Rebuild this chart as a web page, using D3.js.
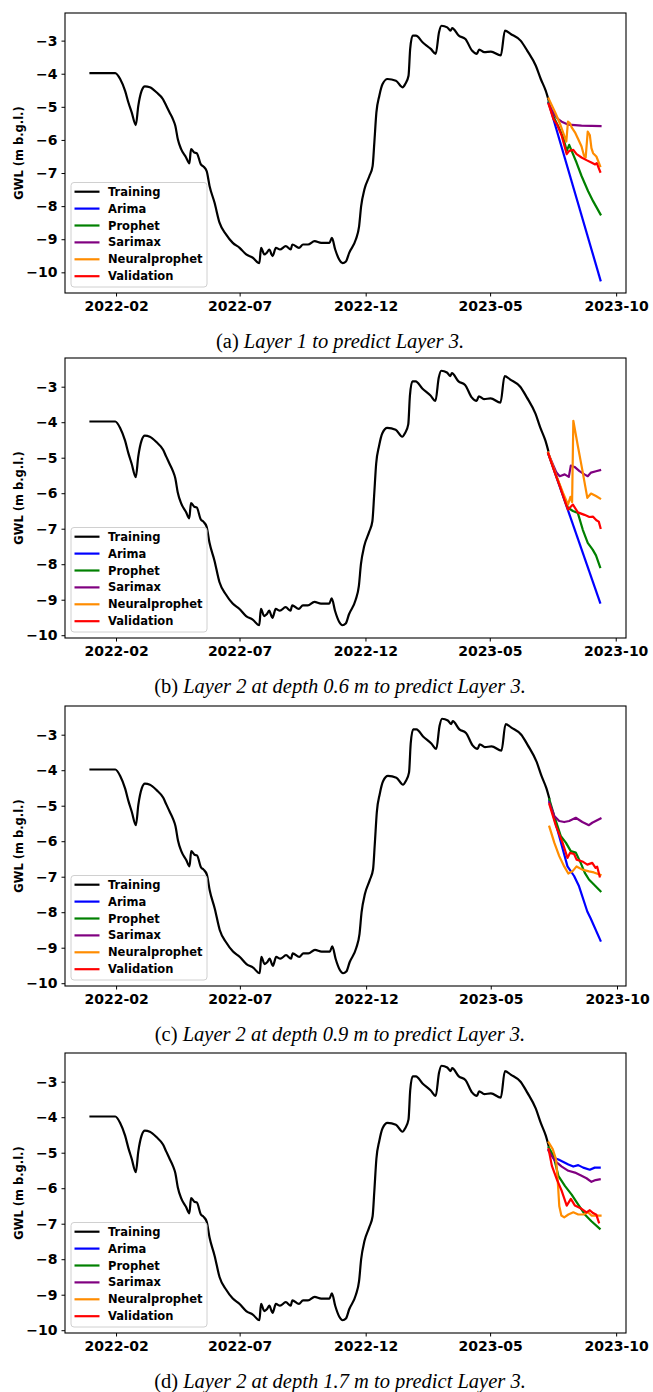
<!DOCTYPE html>
<html><head><meta charset="utf-8">
<script src="https://cdn.jsdelivr.net/npm/d3@7"></script>
<style>body{margin:0;background:#fff}</style>
</head><body><svg id="c" width="653" height="1392"></svg>
<script>
// ---------- DATA ----------
const trainStart = "2022-01-01";  // day 0 of training series
const trainDay = [0,30,36,42,46,50,55,58,62,66,72,80,88,92,96,100,103,106,110,116,120,122,126,129,134,137,141,144.5,150.6,156.6,164.7,172.7,181,189,197,205,207,211,214,217,221,225,230,237,243,245,253,258,264,272,280,290,293,297,302,306,310,314,322,326,328.5,332.5,338.5,342.4,344.5,347,350.5,354.5,360.5,370.7,378.7,382,386,388,391,395,403,413,419,423,426,433,437,439,447,455,463,469,471.7,478,486,498,503,510,522,530,540.5,546.5,552.6,556];
const trainGWL = [-3.98,-3.98,-4.16,-4.52,-4.87,-5.17,-5.55,-4.97,-4.52,-4.38,-4.41,-4.56,-4.77,-4.97,-5.17,-5.37,-5.58,-5.98,-6.28,-6.53,-6.71,-6.28,-6.38,-6.40,-6.74,-6.80,-6.94,-7.39,-7.90,-8.50,-8.86,-9.11,-9.26,-9.46,-9.56,-9.72,-9.26,-9.46,-9.41,-9.31,-9.51,-9.26,-9.31,-9.21,-9.31,-9.16,-9.26,-9.16,-9.16,-9.06,-9.11,-9.11,-8.96,-9.31,-9.62,-9.72,-9.67,-9.41,-9.01,-8.61,-8.0,-7.49,-7.09,-6.79,-6.08,-5.17,-4.67,-4.31,-4.16,-4.21,-4.41,-4.31,-4.06,-3.25,-2.85,-2.85,-3.05,-3.25,-3.40,-2.75,-2.55,-2.60,-2.70,-2.62,-2.85,-2.95,-3.30,-3.40,-3.27,-3.35,-3.33,-3.45,-2.70,-2.80,-3.00,-3.30,-3.76,-4.16,-4.52,-4.80];

const fcStart = "2023-07-11";     // day 0 of forecast series  [day, GWL]
// (a) Layer 1
const aArima   = [[0,-4.87],[63,-10.24]];
const aProphet = [[0,-4.87],[6,-5.3],[12,-5.6],[18,-5.95],[22,-6.33],[25,-6.15],[28,-6.33],[34,-6.69],[40,-7.09],[48,-7.55],[54,-7.85],[63,-8.25]];
const aSarimax = [[0,-4.90],[4,-5.10],[8,-5.27],[12,-5.38],[16,-5.45],[24,-5.54],[40,-5.57],[63,-5.58]];
const aNeural  = [[0,-4.75],[8,-5.17],[14,-5.52],[18,-5.80],[21.5,-6.05],[23.5,-5.45],[26,-5.50],[28,-5.62],[32,-5.77],[36,-5.98],[40,-6.20],[43,-6.48],[45,-6.53],[47.5,-5.75],[50,-5.85],[52,-6.25],[54,-6.40],[58,-6.50],[62.6,-6.79]];
const aValid   = [[0,-4.92],[6,-5.37],[10,-5.52],[16,-5.88],[22,-6.43],[25,-6.33],[30,-6.30],[34,-6.43],[40,-6.53],[46,-6.61],[52.5,-6.69],[56.5,-6.74],[58.5,-6.70],[62.6,-6.96]];
// (b) Layer 2, 0.6 m
const bArima   = [[0,-4.88],[63,-9.08]];
const bProphet = [[0,-4.88],[8,-5.40],[14,-5.78],[21,-6.25],[24,-6.41],[30,-6.50],[36,-6.56],[42,-7.03],[48,-7.40],[54,-7.59],[58,-7.75],[63,-8.08]];
const bSarimax = [[0,-4.88],[10,-5.42],[14,-5.52],[20,-5.47],[25,-5.54],[27.5,-5.22],[32,-5.26],[38,-5.38],[44,-5.47],[48,-5.52],[52,-5.42],[58,-5.38],[63,-5.35]];
const bNeural  = [[0,-4.86],[10,-5.52],[18,-5.99],[24,-6.32],[27,-6.10],[29,-6.25],[30.5,-3.96],[36,-4.67],[42,-5.42],[47.5,-6.13],[52,-6.01],[58,-6.08],[63,-6.15]];
const bValid   = [[0,-4.88],[8,-5.42],[14,-5.80],[21,-6.27],[24,-6.46],[30,-6.32],[36,-6.54],[44,-6.61],[50,-6.67],[54.5,-6.66],[58.5,-6.76],[61.4,-6.80],[63.5,-6.98]];
// (c) Layer 2, 0.9 m
const cArima   = [[0,-4.87],[12,-5.86],[22,-6.71],[30,-6.98],[36,-7.27],[46,-7.98],[50,-8.17],[62,-8.80]];
const cProphet = [[0,-4.82],[6,-5.29],[14,-5.86],[20,-6.04],[26,-6.28],[32,-6.32],[38,-6.61],[43,-6.89],[48,-7.08],[54,-7.22],[62,-7.41]];
const cSarimax = [[0,-4.91],[6,-5.29],[12,-5.43],[18,-5.46],[24,-5.43],[32,-5.34],[40,-5.46],[48,-5.55],[52,-5.48],[62,-5.36]];
const cNeural  = [[0,-5.59],[6,-6.04],[12,-6.42],[18,-6.71],[23,-6.91],[28,-6.85],[33,-6.71],[40,-6.80],[48,-6.85],[54,-6.88],[62,-6.95]];
const cValid   = [[0,-4.96],[8,-5.57],[16,-6.04],[22,-6.47],[25,-6.33],[30,-6.36],[33,-6.52],[40,-6.57],[46,-6.66],[52,-6.61],[56,-6.75],[58,-6.72],[61,-6.99]];
// (d) Layer 2, 1.7 m
const dArima   = [[0,-4.92],[6,-5.14],[12,-5.19],[18,-5.26],[24,-5.33],[30,-5.39],[36,-5.35],[42,-5.42],[50,-5.48],[56,-5.42],[62,-5.42]];
const dProphet = [[0,-4.85],[6,-5.09],[12,-5.66],[20,-5.94],[28,-6.18],[36,-6.46],[44,-6.74],[52,-6.93],[62,-7.14]];
const dSarimax = [[0,-4.95],[8,-5.24],[16,-5.39],[24,-5.51],[32,-5.56],[40,-5.65],[46,-5.72],[52,-5.82],[57,-5.77],[62,-5.75]];
const dNeural  = [[0,-4.71],[5,-4.90],[9,-5.19],[11,-5.75],[13,-6.51],[15.5,-6.77],[19,-6.82],[24,-6.74],[30,-6.68],[36,-6.74],[42,-6.74],[48,-6.68],[52,-6.77],[58,-6.77],[63,-6.77]];
const dValid   = [[0,-4.90],[4,-5.37],[10,-5.75],[16,-6.08],[22,-6.49],[27,-6.30],[32,-6.49],[40,-6.58],[46,-6.68],[50,-6.62],[54,-6.70],[58,-6.75],[61,-6.96]];

const seriesNames = ["Training","Arima","Prophet","Sarimax","Neuralprophet","Validation"];
const xTickLabels = ["2022-02","2022-07","2022-12","2023-05","2023-10"];
const yTicks = [-3,-4,-5,-6,-7,-8,-9,-10];
const yLabel = "GWL (m b.g.l.)";
const captionTags = ["(a) ","(b) ","(c) ","(d) "];
const captionTexts = ["Layer 1 to predict Layer 3.","Layer 2 at depth 0.6 m to predict Layer 3.","Layer 2 at depth 0.9 m to predict Layer 3.","Layer 2 at depth 1.7 m to predict Layer 3."];

// ---------- STYLE / LAYOUT ----------
const colors = {Training:"#000000",Arima:"#0000ff",Prophet:"#008000",Sarimax:"#800080",Neuralprophet:"#ff8c00",Validation:"#ff0000"};
const panelTops = [13,358,706,1053];
const L = 65, R = 626, PH = 280;
const FONT = "DejaVu Sans";

const dayMs = 864e5;
const parse = d3.utcParse("%Y-%m-%d");
const t0 = parse(trainStart), f0 = parse(fcStart);
const training = trainDay.map((d,i)=>({date:new Date(t0.getTime()+d*dayMs), v:trainGWL[i]}));
const toPts = arr => arr.map(([d,v])=>({date:new Date(f0.getTime()+d*dayMs), v}));
const panelSeries = [
  [aArima,aProphet,aSarimax,aNeural,aValid],
  [bArima,bProphet,bSarimax,bNeural,bValid],
  [cArima,cProphet,cSarimax,cNeural,cValid],
  [dArima,dProphet,dSarimax,dNeural,dValid]
];

const svg = d3.select("#c");
const pad = (lo,hi)=>{const r=hi-lo;return [lo-0.05*r, hi+0.05*r];};

panelSeries.forEach((ser, pi) => {
  const top = panelTops[pi], bot = top + PH;
  const lines = [training, ...ser.map(toPts)];
  const all = lines.flat();
  const [x0,x1] = d3.extent(all, d=>d.date.getTime());
  const xd = pad(x0,x1);
  const x = d3.scaleUtc().domain([new Date(xd[0]), new Date(xd[1])]).range([L,R]);
  const yd = pad(...d3.extent(all, d=>d.v));
  const y = d3.scaleLinear().domain(yd).range([bot, top]);
  const g = svg.append("g");

  const clipId = "clip"+pi;
  g.append("clipPath").attr("id",clipId).append("rect").attr("x",L).attr("y",top).attr("width",R-L).attr("height",PH);

  const lineT = d3.line().x(d=>x(d.date)).y(d=>y(d.v)).curve(d3.curveMonotoneX);
  const line = d3.line().x(d=>x(d.date)).y(d=>y(d.v));
  const lg = g.append("g").attr("clip-path",`url(#${clipId})`);
  lines.forEach((pts,i)=>{
    lg.append("path").attr("d", (i===0?lineT:line)(pts)).attr("fill","none")
      .attr("stroke", colors[seriesNames[i]]).attr("stroke-width", 2.2)
      .attr("stroke-linejoin","round").attr("stroke-linecap","square");
  });

  // axes
  const xTicks = xTickLabels.map(s=>d3.utcParse("%Y-%m")(s));
  const xa = g.append("g").attr("transform",`translate(0,${bot})`)
    .call(d3.axisBottom(x).tickValues(xTicks).tickFormat(d3.utcFormat("%Y-%m")).tickSize(3.5).tickPadding(3.5));
  xa.select(".domain").remove();
  xa.selectAll("line").attr("stroke","#000").attr("stroke-width",1);
  xa.selectAll("text").attr("font-family",FONT).attr("font-weight","bold").attr("font-size",14).attr("fill","#000").attr("dy","0.78em");

  const ya = g.append("g").attr("transform",`translate(${L},0)`)
    .call(d3.axisLeft(y).tickValues(yTicks).tickFormat(d=>"\u2212"+Math.abs(d)).tickSize(3.5).tickPadding(4));
  ya.select(".domain").remove();
  ya.selectAll("line").attr("stroke","#000").attr("stroke-width",1);
  ya.selectAll("text").attr("font-family",FONT).attr("font-weight","bold").attr("font-size",14).attr("fill","#000");

  g.append("rect").attr("x",L).attr("y",top).attr("width",R-L).attr("height",PH)
    .attr("fill","none").attr("stroke","#000").attr("stroke-width",1.1);

  g.append("text").attr("transform",`translate(19,${(top+bot)/2}) rotate(-90)`)
    .attr("text-anchor","middle").attr("dominant-baseline","central")
    .attr("font-family",FONT).attr("font-weight","bold").attr("font-size",11.5).text(yLabel);

  // legend
  const lgX = L+6, lgW = 136, lgH = 104.5, lgY = bot-6-lgH;
  const leg = g.append("g");
  leg.append("rect").attr("x",lgX).attr("y",lgY).attr("width",lgW).attr("height",lgH).attr("rx",3)
    .attr("fill","#fff").attr("fill-opacity",0.8).attr("stroke","#d0d0d0").attr("stroke-width",1);
  seriesNames.forEach((n,i)=>{
    const cy = lgY + 9.2 + i*16.9;
    leg.append("line").attr("x1",lgX+3.5).attr("x2",lgX+28.5).attr("y1",cy).attr("y2",cy)
      .attr("stroke",colors[n]).attr("stroke-width",2.2);
    leg.append("text").attr("x",lgX+37).attr("y",cy).attr("dominant-baseline","central")
      .attr("font-family",FONT).attr("font-weight","bold").attr("font-size",11.5).text(n);
  });

  // caption
  const cap = g.append("text").attr("x",340).attr("y",bot+55).attr("text-anchor","middle")
    .attr("font-family","Liberation Serif").attr("font-size",20.5).attr("fill","#000");
  cap.append("tspan").text(captionTags[pi]);
  cap.append("tspan").attr("font-style","italic").text(captionTexts[pi]);
});
</script></body></html>
